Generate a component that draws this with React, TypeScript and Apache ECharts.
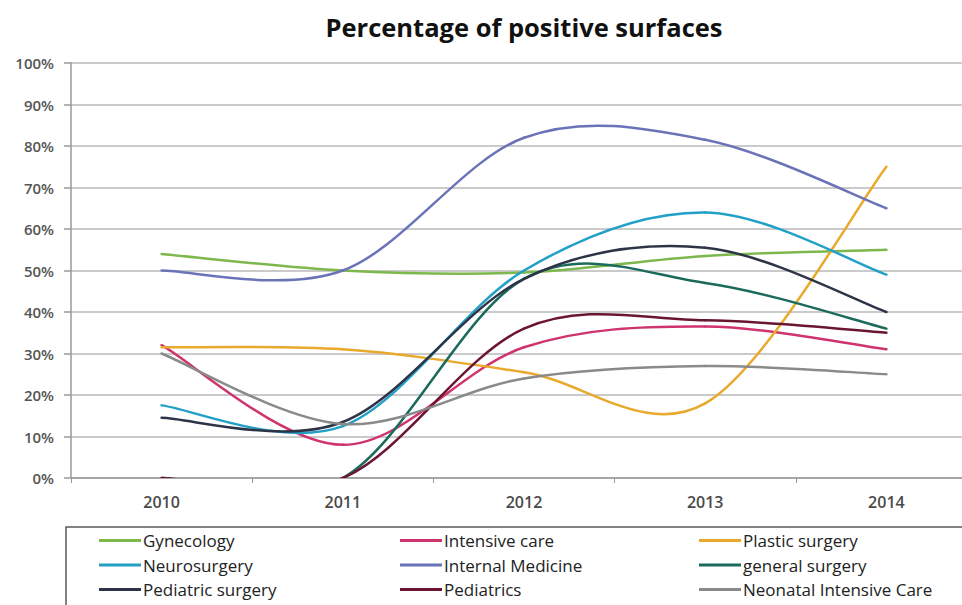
import React, { useEffect, useRef } from "react";
import * as echarts from "echarts";

const years = ["2010", "2011", "2012", "2013", "2014"];
const seriesNames = [
  "Gynecology",
  "Intensive care",
  "Plastic surgery",
  "Neurosurgery",
  "Internal Medicine",
  "general surgery",
  "Pediatric surgery",
  "Pediatrics",
  "Neonatal Intensive Care",
];
const gynecology = [54, 50, 49.5, 53.5, 55];
const intensiveCare = [32, 8, 31.5, 36.5, 31];
const plasticSurgery = [31.5, 31, 25.5, 18, 75];
const neurosurgery = [17.5, 12.5, 50, 64, 49];
const internalMedicine = [50, 50, 82, 81.5, 65];
const generalSurgery = [0, 0, 48, 47, 36];
const pediatricSurgery = [14.5, 13.5, 48, 55.5, 40];
const pediatrics = [0, 0, 36, 38, 35];
const neonatalIntensiveCare = [30, 13, 24, 27, 25];
const yTicks = [0, 10, 20, 30, 40, 50, 60, 70, 80, 90, 100];

const seriesValues = [
  gynecology,
  intensiveCare,
  plasticSurgery,
  neurosurgery,
  internalMedicine,
  generalSurgery,
  pediatricSurgery,
  pediatrics,
  neonatalIntensiveCare,
];
const colors = [
  "#7cb84c",
  "#d0346f",
  "#e8a92c",
  "#22a0c8",
  "#6b73b8",
  "#1c6a5c",
  "#2e3447",
  "#6a1531",
  "#8a8a8a",
];

export default function App() {
  const ref = useRef<HTMLDivElement>(null);
  useEffect(() => {
    if (!ref.current) return;
    document.body.style.overflow = "hidden";
    const chart = echarts.init(ref.current, null, { renderer: "svg" });
    const mkLegend = (left: number, names: string[]) => ({
      orient: "vertical",
      left,
      top: 532,
      padding: 0,
      itemWidth: 42,
      itemHeight: 3,
      itemGap: 7.5,
      icon: "rect",
      textStyle: {
        fontFamily: "Open Sans",
        fontSize: 17,
        color: "#222",
        lineHeight: 15,
        padding: [0, 0, 0, -3],
      },
      data: names.map((n) => ({
        name: n,
        itemStyle: { color: colors[seriesNames.indexOf(n)] },
      })),
    });

    const makeRender = (values: number[], color: string) =>
      function (params: any, api: any) {
        const i = params.dataIndex;
        const n = values.length;
        if (i >= n - 1) return null;
        const pt = (k: number) => api.coord([k, values[k]]);
        const p0 = pt(i > 0 ? i - 1 : i);
        const p1 = pt(i);
        const p2 = pt(i + 1);
        const p3 = pt(i + 2 < n ? i + 2 : i + 1);
        return {
          type: "bezierCurve",
          shape: {
            x1: p1[0],
            y1: p1[1],
            cpx1: p1[0] + (p2[0] - p0[0]) / 6,
            cpy1: p1[1] + (p2[1] - p0[1]) / 6,
            cpx2: p2[0] - (p3[0] - p1[0]) / 6,
            cpy2: p2[1] - (p3[1] - p1[1]) / 6,
            x2: p2[0],
            y2: p2[1],
          },
          style: { stroke: color, lineWidth: 2.5, fill: "none", lineCap: "round" },
        };
      };

    chart.setOption({
      animation: false,
      color: colors,
      graphic: [
        {
          type: "text",
          x: 524,
          y: 27,
          style: {
            text: "Percentage of positive surfaces",
            textAlign: "center",
            verticalAlign: "middle",
            font: "bold 25.5px 'Open Sans'",
            fill: "#111",
          },
        },
        {
          type: "rect",
          shape: { x: 66, y: 527, width: 930, height: 100 },
          style: { fill: "none", stroke: "#5a5a5a", lineWidth: 1.5 },
          z: 10,
        },
      ],
      legend: [
        mkLegend(99, [seriesNames[0], seriesNames[3], seriesNames[6]]),
        mkLegend(400, [seriesNames[1], seriesNames[4], seriesNames[7]]),
        mkLegend(699, [seriesNames[2], seriesNames[5], seriesNames[8]]),
      ],
      grid: { left: 71, top: 63, width: 906, height: 415, containLabel: false },
      xAxis: {
        type: "category",
        data: years,
        boundaryGap: true,
        axisLine: { show: true, lineStyle: { color: "#9a9a9a", width: 1.5 } },
        axisTick: { show: true, length: 5, lineStyle: { color: "#9a9a9a" } },
        axisLabel: {
          margin: 16,
          fontFamily: "Open Sans",
          fontSize: 16,
          fontWeight: 600,
          color: "#4a4a4a",
        },
      },
      yAxis: {
        type: "value",
        min: yTicks[0],
        max: yTicks[yTicks.length - 1],
        interval: 10,
        axisLine: { show: true, lineStyle: { color: "#9a9a9a", width: 1.5 } },
        axisTick: { show: true, length: 7, lineStyle: { color: "#9a9a9a", width: 1.5 } },
        axisLabel: {
          margin: 17,
          formatter: "{value}%",
          fontFamily: "Open Sans",
          fontSize: 15,
          fontWeight: 600,
          color: "#555",
        },
        splitLine: { show: true, lineStyle: { color: "#b8b8b8", width: 1.5 } },
      },
      series: seriesNames.map((name, i) => ({
        name,
        type: "custom",
        coordinateSystem: "cartesian2d",
        clip: true,
        data: seriesValues[i].map((v, k) => [k, v]),
        encode: { x: 0, y: 1 },
        itemStyle: { color: colors[i] },
        renderItem: makeRender(seriesValues[i], colors[i]),
      })),
    });
    return () => chart.dispose();
  }, []);
  return (
    <div
      ref={ref}
      style={{ position: "fixed", left: 0, top: 0, width: 982, height: 605, background: "#fff" }}
    />
  );
}
